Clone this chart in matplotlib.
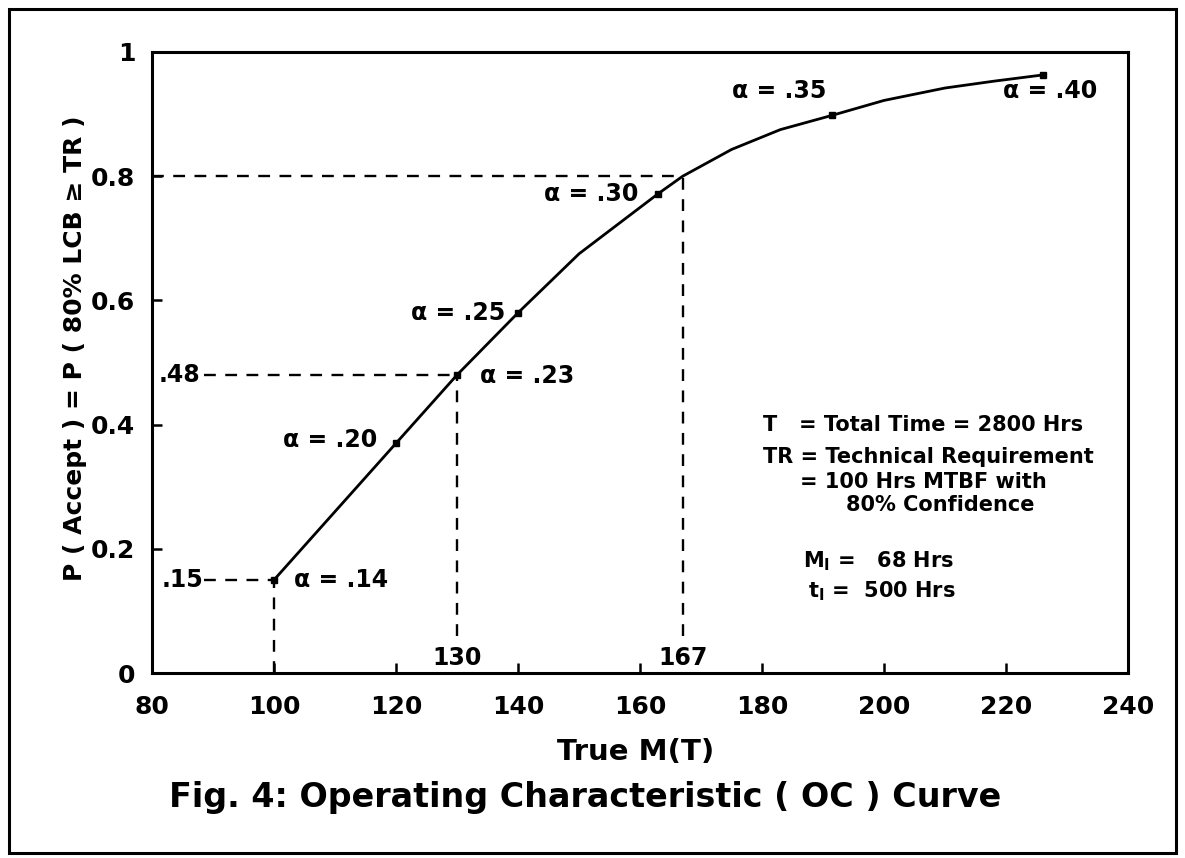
import matplotlib
matplotlib.use("Agg")
import matplotlib.pyplot as plt
from matplotlib.patches import Rectangle

plt.rcParams['font.family'] = ['DejaVu Sans']
plt.rcParams['font.weight'] = 'bold'
plt.rcParams['mathtext.fontset'] = 'custom'
plt.rcParams['mathtext.rm'] = 'DejaVu Sans:bold'
plt.rcParams['mathtext.bf'] = 'DejaVu Sans:bold'

# OC curve
curve_x = [100, 110, 120, 130, 140, 150, 163, 167, 175, 183, 191.5, 200, 210, 218, 226]
curve_y = [0.15, 0.26, 0.37, 0.48, 0.58, 0.675, 0.772, 0.80, 0.843, 0.875, 0.898, 0.922, 0.942, 0.953, 0.963]

# marked points, one per alpha level
alpha_x = [100, 120, 130, 140, 163, 191.5, 226]
alpha_y = [0.15, 0.37, 0.48, 0.58, 0.772, 0.898, 0.963]
alpha_lbl = ['.14', '.20', '.23', '.25', '.30', '.35', '.40']
# label anchor (x, y, ha)
lbl_pos = [(103.2, 0.15, 'left'), (117.0, 0.375, 'right'), (133.8, 0.478, 'left'),
           (137.9, 0.58, 'right'), (159.7, 0.772, 'right'), (190.5, 0.937, 'right'),
           (219.5, 0.937, 'left')]

# reference lines
ref_x = [100, 130, 167]
ref_y = [0.15, 0.48, 0.80]

fig = plt.figure(figsize=(11.85, 8.58), dpi=100)
ax = fig.add_axes([0.1283, 0.2156, 0.8236, 0.7238])

ax.plot(curve_x, curve_y, color='black', lw=2.0)
ax.plot(alpha_x, alpha_y, 's', color='black', ms=4.5)

for (lx, ly, ha), t in zip(lbl_pos, alpha_lbl):
    ax.text(lx, ly, '\u03b1 = ' + t, ha=ha, va='center', fontsize=17, fontweight='bold')

dash = dict(color='black', lw=1.7, ls=(0, (5, 4)))
# horizontal dashed
ax.plot([88.5, ref_x[0]], [ref_y[0]] * 2, **dash)
ax.plot([88.5, ref_x[1]], [ref_y[1]] * 2, **dash)
ax.plot([80, ref_x[2]], [ref_y[2]] * 2, **dash)
# vertical dashed
ax.plot([ref_x[0]] * 2, [0, ref_y[0]], **dash)
ax.plot([ref_x[1]] * 2, [0.06, ref_y[1]], **dash)
ax.plot([ref_x[2]] * 2, [0.06, ref_y[2]], **dash)

ax.text(81.5, 0.15, '.15', ha='left', va='center', fontsize=17, fontweight='bold')
ax.text(81.0, 0.48, '.48', ha='left', va='center', fontsize=17, fontweight='bold')
ax.text(ref_x[1], 0.005, '130', ha='center', va='bottom', fontsize=17, fontweight='bold')
ax.text(ref_x[2], 0.005, '167', ha='center', va='bottom', fontsize=17, fontweight='bold')

# notes block
notes = [
    (763, 425, 'T   = Total Time = 2800 Hrs'),
    (763, 457, 'TR = Technical Requirement'),
    (800, 482, '= 100 Hrs MTBF with'),
    (846, 505, '80% Confidence'),
    (803, 561, r'M$_\mathrm{I}$ =   68 Hrs'),
    (808, 591, r't$_\mathrm{I}$ =  500 Hrs'),
]
for px, py, s in notes:
    fig.text(px / 1185, 1 - py / 858, s, ha='left', va='center', fontsize=15, fontweight='bold')

ax.set_xlim(80, 240)
ax.set_ylim(0, 1)
ax.set_xticks([80, 100, 120, 140, 160, 180, 200, 220, 240])
ax.set_yticks([0, 0.2, 0.4, 0.6, 0.8, 1])
ax.set_yticklabels(['0', '0.2', '0.4', '0.6', '0.8', '1'])
ax.tick_params(direction='in', length=7, width=1.8, labelsize=18)
ax.tick_params(axis='x', pad=16)
ax.tick_params(axis='y', pad=12)
for lab in ax.get_xticklabels() + ax.get_yticklabels():
    lab.set_fontweight('bold')
for sp in ax.spines.values():
    sp.set_linewidth(2.2)

fig.text(75 / 1185, 1 - 348 / 858, 'P ( Accept ) = P ( 80% LCB \u2265 TR )', rotation=90,
         ha='center', va='center', fontsize=18, fontweight='bold')
fig.text(636 / 1185, 1 - 752 / 858, 'True M(T)', ha='center', va='center', fontsize=21, fontweight='bold')
fig.text(585 / 1185, 1 - 798 / 858, 'Fig. 4: Operating Characteristic ( OC ) Curve',
         ha='center', va='center', fontsize=24, fontweight='bold')

fig.patches.append(Rectangle((0.008, 0.006), 0.984, 0.984, transform=fig.transFigure,
                             fill=False, lw=2.2, ec='black'))

fig.savefig('out.png', dpi=100)
